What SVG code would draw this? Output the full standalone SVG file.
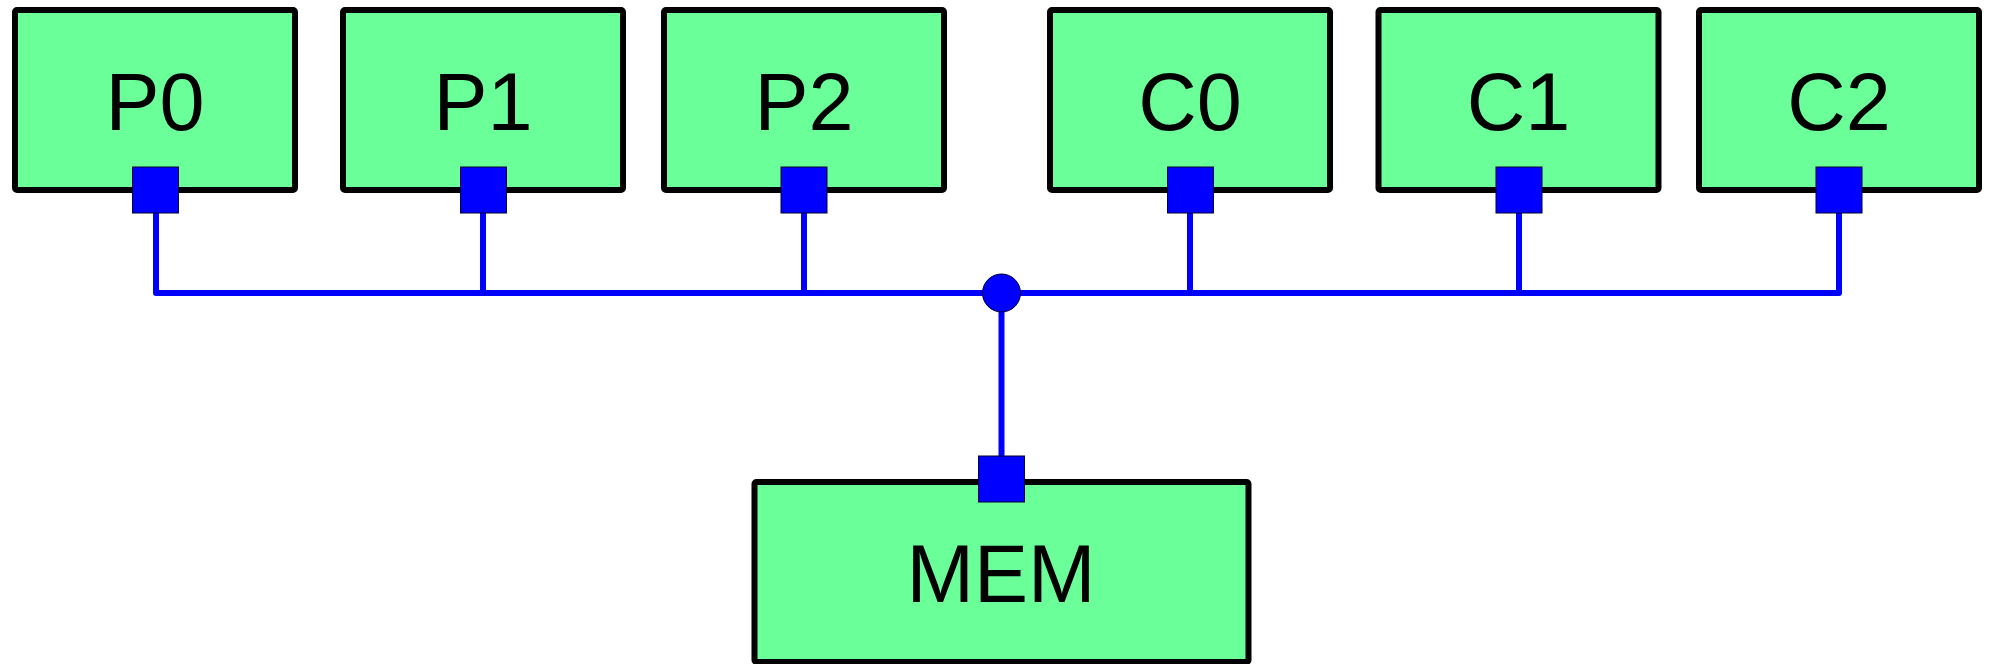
<svg xmlns="http://www.w3.org/2000/svg" width="1992" height="664" viewBox="0 0 1992 664">
<style>
.box{fill:#6aff99;stroke:#000;stroke-width:6;stroke-linejoin:round}
.port{fill:#0000ff;stroke:#000033;stroke-width:1}
.lbl{font-family:"Liberation Sans",Arial,sans-serif;font-size:81px;fill:#000;text-anchor:middle}
.wire{fill:none;stroke:#0000ff;stroke-width:6;stroke-linejoin:round;stroke-linecap:butt}
</style>
<rect width="1992" height="664" fill="#fff"/>
<g id="connectors">
<path class="wire" d="M156,213 V293 H1839 V213"/>
<path class="wire" d="M483,213 V293"/>
<path class="wire" d="M804,213 V293"/>
<path class="wire" d="M1190,213 V293"/>
<path class="wire" d="M1519,213 V293"/>
<path class="wire" d="M1001.5,293 V456"/>
<circle cx="1001.5" cy="293" r="19" fill="#0000ff" stroke="#000033" stroke-width="1"/>
</g>
<g id="P0">
<rect class="box" x="15" y="10" width="280" height="180" rx="2"/>
<text class="lbl" x="155" y="130">P0</text>
<rect class="port" x="132.5" y="167" width="46" height="46"/>
</g>
<g id="P1">
<rect class="box" x="343" y="10" width="280" height="180" rx="2"/>
<text class="lbl" x="483" y="130">P1</text>
<rect class="port" x="460.5" y="167" width="46" height="46"/>
</g>
<g id="P2">
<rect class="box" x="664" y="10" width="280" height="180" rx="2"/>
<text class="lbl" x="804" y="130">P2</text>
<rect class="port" x="781" y="167" width="46" height="46"/>
</g>
<g id="C0">
<rect class="box" x="1050" y="10" width="280" height="180" rx="2"/>
<text class="lbl" x="1190" y="130">C0</text>
<rect class="port" x="1167.5" y="167" width="46" height="46"/>
</g>
<g id="C1">
<rect class="box" x="1378.5" y="10" width="280" height="180" rx="2"/>
<text class="lbl" x="1518.5" y="130">C1</text>
<rect class="port" x="1496" y="167" width="46" height="46"/>
</g>
<g id="C2">
<rect class="box" x="1699" y="10" width="280" height="180" rx="2"/>
<text class="lbl" x="1839" y="130">C2</text>
<rect class="port" x="1816" y="167" width="46" height="46"/>
</g>
<g id="MEM">
<rect class="box" x="754.5" y="482" width="494" height="180" rx="2"/>
<text class="lbl" x="1001" y="602">MEM</text>
<rect class="port" x="978.5" y="456" width="46" height="46"/>
</g>
</svg>
